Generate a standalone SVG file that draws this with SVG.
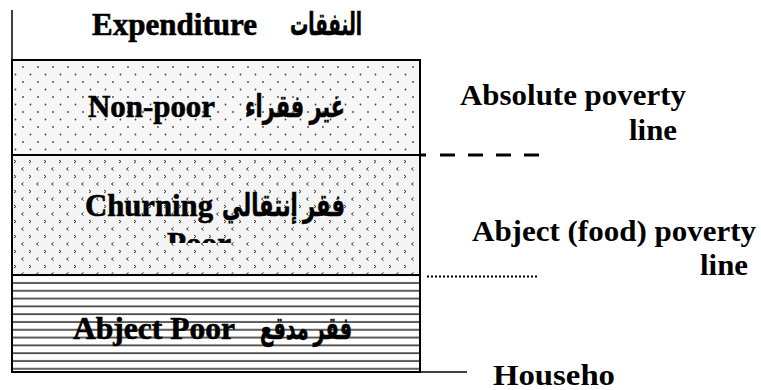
<svg xmlns="http://www.w3.org/2000/svg" width="761" height="390" viewBox="0 0 761 390">
  <style>
    .t { font-family: "Liberation Serif", "DejaVu Sans", serif; font-weight: bold; fill: #000; }
    .big { font-size: 31px; stroke: #000; stroke-width: 0.6; }
    .side { font-size: 29px; }
    .axis { stroke: #000; stroke-width: 1.5; fill: none; }
    .border { fill: none; stroke: #000; stroke-width: 2; }
  </style>
  <defs>
    <pattern id="dots" patternUnits="userSpaceOnUse" x="5" y="64" width="15" height="15">
      <rect width="15" height="15" fill="#f7f7f7"/>
      <circle cx="3" cy="3" r="0.9" fill="#444"/>
      <circle cx="10.5" cy="10.5" r="0.9" fill="#444"/>
    </pattern>
    <pattern id="chev" patternUnits="userSpaceOnUse" x="12" y="158" width="15" height="15">
      <rect width="15" height="15" fill="#f4f4f4"/>
      <path d="M2,2 L4,3.5 L2,5" stroke="#333" stroke-width="1" fill="none"/>
      <path d="M11.5,9.5 L9.5,11 L11.5,12.5" stroke="#333" stroke-width="1" fill="none"/>
    </pattern>
    <pattern id="hlines" patternUnits="userSpaceOnUse" x="0" y="279" width="10" height="7.8">
      <rect width="10" height="7.8" fill="#fff"/>
      <line x1="0" y1="4" x2="10" y2="4" stroke="#333" stroke-width="1.6"/>
    </pattern>
    <clipPath id="poorClip">
      <rect x="12" y="156" width="408" height="87"/>
    </clipPath>
  </defs>

  <g id="axis-labels">
    <text class="t big" x="92" y="35" textLength="165" lengthAdjust="spacingAndGlyphs">Expenditure</text>
    <text class="t big" x="290" y="35" textLength="72" lengthAdjust="spacingAndGlyphs">النفقات</text>
  </g>

  <g id="nonpoor">
    <rect x="12" y="60" width="408" height="95" fill="url(#dots)"/>
    <text class="t big" x="88" y="117" textLength="127" lengthAdjust="spacingAndGlyphs">Non-poor</text>
    <text class="t big" x="245" y="117" textLength="100" lengthAdjust="spacingAndGlyphs">غير فقراء</text>
  </g>

  <g id="churning">
    <rect x="12" y="155" width="408" height="120" fill="url(#chev)"/>
    <text class="t big" x="85" y="216" textLength="128" lengthAdjust="spacingAndGlyphs">Churning</text>
    <text class="t big" x="222" y="216" textLength="123" lengthAdjust="spacingAndGlyphs">فقر إنتقالي</text>
    <text class="t big" x="167" y="254" textLength="64" lengthAdjust="spacingAndGlyphs" clip-path="url(#poorClip)">Poor</text>
  </g>

  <g id="abject">
    <rect x="12" y="275" width="408" height="97" fill="url(#hlines)"/>
    <text class="t big" x="73" y="339" textLength="162" lengthAdjust="spacingAndGlyphs">Abject Poor</text>
    <text class="t big" x="260" y="339" textLength="92" lengthAdjust="spacingAndGlyphs">فقر مدقع</text>
  </g>

  <g id="box-borders">
    <rect class="border" x="12" y="60" width="408" height="312"/>
    <line x1="12" y1="155" x2="420" y2="155" stroke="#000" stroke-width="2"/>
    <line x1="12" y1="275" x2="420" y2="275" stroke="#000" stroke-width="2"/>
  </g>

  <g id="connectors">
    <line class="axis" x1="12" y1="10" x2="12" y2="372"/>
    <line class="axis" x1="420" y1="372" x2="467" y2="372"/>
    <line x1="420" y1="155" x2="426" y2="155" stroke="#000" stroke-width="3"/>
    <line x1="440" y1="155" x2="540" y2="155" stroke="#000" stroke-width="3" stroke-dasharray="15 13"/>
    <line x1="427" y1="276.5" x2="538" y2="276.5" stroke="#000" stroke-width="2" stroke-dasharray="2 2"/>
  </g>

  <g id="line-labels">
    <text class="t side" x="460" y="105" textLength="226" lengthAdjust="spacingAndGlyphs">Absolute poverty</text>
    <text class="t side" x="629" y="140" textLength="48" lengthAdjust="spacingAndGlyphs">line</text>
    <text class="t side" x="472" y="241" textLength="284" lengthAdjust="spacingAndGlyphs">Abject (food) poverty</text>
    <text class="t side" x="700" y="275" textLength="48" lengthAdjust="spacingAndGlyphs">line</text>
    <text class="t side" x="493" y="385" textLength="122" lengthAdjust="spacingAndGlyphs">Househo</text>
  </g>
</svg>
